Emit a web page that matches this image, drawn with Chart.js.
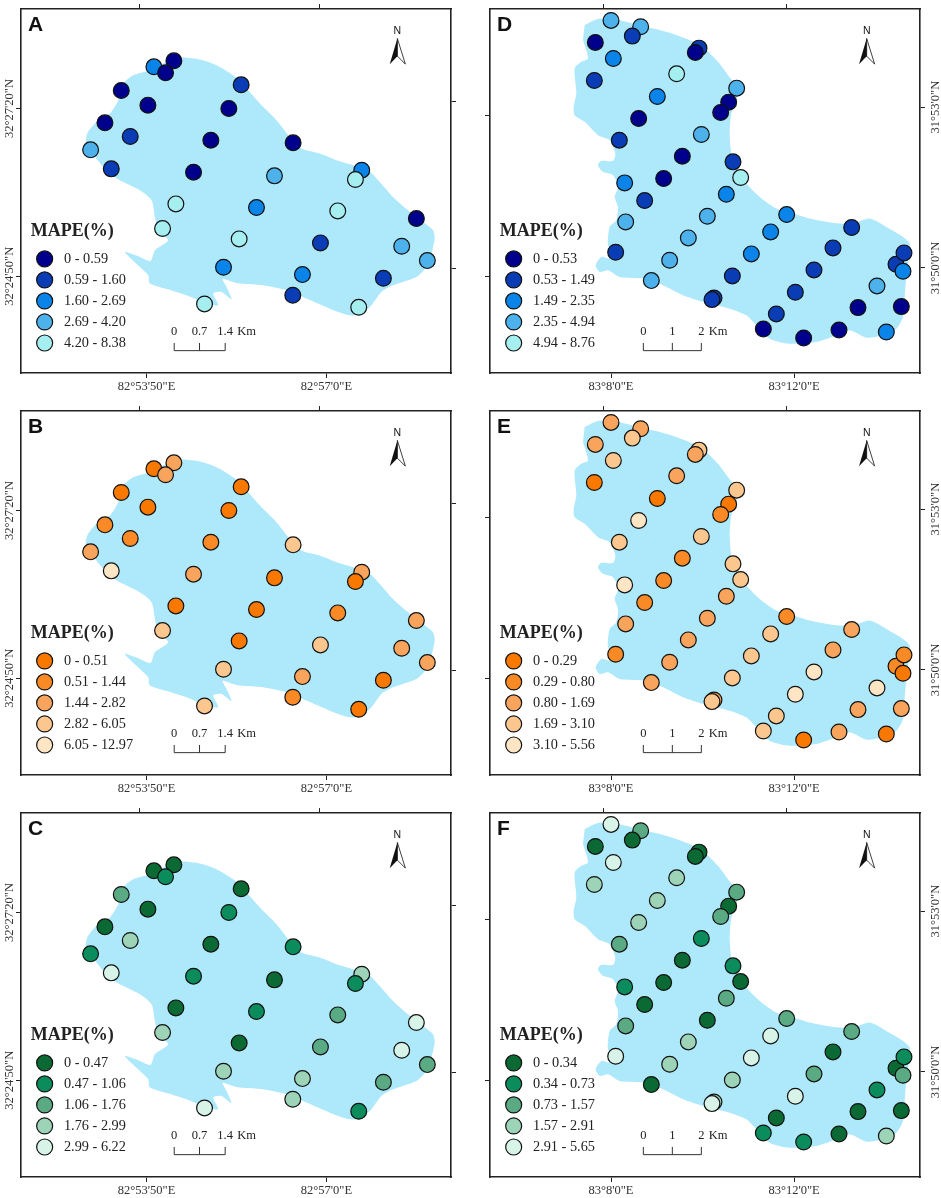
<!DOCTYPE html>
<html>
<head>
<meta charset="utf-8">
<title>MAPE maps</title>
<script src="https://cdn.jsdelivr.net/npm/chart.js@4"></script>
<style>
    body { margin: 0; background: #fff; }
    canvas { position: absolute; }
</style>
</head>
<body>
<script>
// Map readings: x runs east, y runs south, both in the same grid as the frame
const GRID_X_WEST = [63, 1354];
const GRID_X_EAST = [61, 1351];
const GRID_Y = [27, 1118];

// Lake outlines
const lakeWestX = [520,550,600,650,700,725,745,790,830,870,905,960,1010,1060,1105,1140,1180,1225,1270,1300,1305,1295,1280,1250,1180,1145,1115,1085,1050,990,920,860,790,720,690,668,680,695,665,640,655,610,560,520,450,445,420,375,420,452,465,505,475,465,455,420,350,310,285,258,262,290,330,355,370,400,450,490];
const lakeWestY = [175,172,178,195,225,245,270,320,360,410,445,460,480,495,510,545,590,630,665,690,715,760,800,830,855,875,915,940,945,925,895,870,855,850,842,836,860,897,875,880,915,905,885,872,850,825,800,755,770,782,750,720,690,650,600,570,535,500,470,440,400,365,340,300,250,225,210,190];
const lakeEastX = [345,380,420,470,515,570,620,670,710,745,775,805,800,785,780,785,800,830,870,920,970,1020,1090,1150,1200,1250,1300,1320,1318,1310,1305,1300,1280,1240,1190,1140,1100,1040,960,900,860,830,780,700,640,580,520,450,415,390,378,395,420,430,415,420,440,445,435,445,430,400,385,395,430,437,420,385,345,315,312,320,315,335,355,340];
const lakeEastY = [75,58,55,65,78,90,105,125,150,185,225,265,300,340,400,460,505,550,590,625,640,655,668,670,655,680,710,730,770,830,890,950,985,1005,1012,990,1005,1025,1030,1015,975,945,925,905,885,855,835,830,810,815,795,770,775,750,735,680,660,620,590,560,525,515,495,482,482,460,420,405,365,345,320,280,205,185,175,120];

// Stations
const stationsWestX = [522,462,497,724,364,444,687,315,391,633,880,272,334,581,824,1086,1067,528,770,1014,1250,488,718,962,1206,1283,671,908,1151,879,614,1077];
const stationsWestY = [182,200,218,254,271,315,325,368,409,420,428,449,506,516,527,510,538,611,622,632,655,685,716,728,738,781,801,823,834,885,911,921];
const stationsEastX = [424,513,488,688,677,377,431,621,374,801,563,777,753,507,695,449,638,790,582,813,465,770,525,713,951,468,1146,903,656,1090,845,438,1279,1303,600,1300,1033,788,545,1222,977,733,727,1165,1295,920,881,1108,1250,1002];
const stationsEastY = [61,80,108,144,157,127,175,221,241,264,289,306,337,355,403,420,468,485,535,532,548,582,601,648,643,665,682,695,713,743,761,756,792,758,780,813,809,827,841,857,876,893,898,922,919,941,986,989,995,1013];

// MAPE class of each station (0 = lowest class)
const classesA = [0,2,0,1,0,0,0,0,1,0,0,3,1,0,3,2,4,4,2,4,0,4,4,1,3,3,2,2,1,1,4,4];
const classesB = [2,0,2,0,0,0,0,1,1,1,3,2,4,2,0,2,0,0,0,1,2,3,0,3,2,2,3,2,0,1,3,0];
const classesC = [0,0,1,0,2,0,1,0,3,0,1,1,4,1,0,3,1,0,1,2,4,3,0,2,4,2,3,3,2,3,4,1];
const classesD = [3,3,1,1,0,0,2,4,1,3,2,0,0,0,3,1,0,1,0,4,2,2,1,3,2,3,1,2,3,1,2,1,1,1,3,2,1,1,3,3,1,1,1,0,0,1,0,0,2,0];
const classesE = [2,2,3,3,2,2,3,2,0,3,0,0,1,4,3,3,1,3,1,3,4,2,1,2,1,2,2,3,2,2,3,1,1,1,2,0,4,3,2,4,4,2,3,2,2,3,3,2,0,0];
const classesF = [4,2,0,0,0,0,4,3,3,2,3,0,2,3,1,2,0,1,0,0,1,2,0,0,2,2,2,4,3,0,4,4,0,1,3,2,2,3,0,1,4,3,4,0,0,0,1,0,3,1];

// Legend labels
const breaksA = ["0 - 0.59", "0.59 - 1.60", "1.60 - 2.69", "2.69 - 4.20", "4.20 - 8.38"];
const breaksB = ["0 - 0.51", "0.51 - 1.44", "1.44 - 2.82", "2.82 - 6.05", "6.05 - 12.97"];
const breaksC = ["0 - 0.47", "0.47 - 1.06", "1.06 - 1.76", "1.76 - 2.99", "2.99 - 6.22"];
const breaksD = ["0 - 0.53", "0.53 - 1.49", "1.49 - 2.35", "2.35 - 4.94", "4.94 - 8.76"];
const breaksE = ["0 - 0.29", "0.29 - 0.80", "0.80 - 1.69", "1.69 - 3.10", "3.10 - 5.56"];
const breaksF = ["0 - 0.34", "0.34 - 0.73", "0.73 - 1.57", "1.57 - 2.91", "2.91 - 5.65"];

// Graticule ticks
const lonTicksWest = [440, 980];
const lonTicksWestTop = [420, 960];
const latTicksWest = [325, 828];
const latTicksWestRight = [303, 806];
const lonLabelsWest = ['82°53\'50"E', '82°57\'0"E'];
const latLabelsWest = ['32°27\'20"N', '32°24\'50"N'];
const lonTicksEast = [424, 973];
const lonTicksEastTop = [402, 950];
const latTicksEast = [346, 828];
const latTicksEastRight = [321, 803];
const lonLabelsEast = ['83°8\'0"E', '83°12\'0"E'];
const latLabelsEast = ['31°53\'0"N', '31°50\'0"N'];

// Scale bars
const barTicksWest = [523, 599, 676];
const barLabelsWest = ["0", "0.7", "1.4"];
const barTicksEast = [521, 608, 695];
const barLabelsEast = ["0", "1", "2"];

// Colours
const BLUES = ["#00008c", "#0a3db5", "#0a84e8", "#4db1ec", "#a6eff1"];
const ORANGES = ["#f87800", "#f98a26", "#f9a45c", "#fbc78f", "#fee6c4"];
const GREENS = ["#0b6a33", "#0a8c5c", "#5aab84", "#9dd3b7", "#d8f4e8"];
const LAKE_COLOR = "#aee8fb";
const SERIF = "'Liberation Serif', serif";

const west = {
    lakeX: lakeWestX, lakeY: lakeWestY, stX: stationsWestX, stY: stationsWestY, gridX: GRID_X_WEST,
    lon: lonTicksWest, lonTop: lonTicksWestTop, lat: latTicksWest, latRight: latTicksWestRight,
    lonLabels: lonLabelsWest, latLabels: latLabelsWest,
    barTicks: barTicksWest, barLabels: barLabelsWest, kmX: 712, northX: 1193, legendX: 134, labelSide: "left"
};
const east = {
    lakeX: lakeEastX, lakeY: lakeEastY, stX: stationsEastX, stY: stationsEastY, gridX: GRID_X_EAST,
    lon: lonTicksEast, lonTop: lonTicksEastTop, lat: latTicksEast, latRight: latTicksEastRight,
    lonLabels: lonLabelsEast, latLabels: latLabelsEast,
    barTicks: barTicksEast, barLabels: barLabelsEast, kmX: 717, northX: 1191, legendX: 132, labelSide: "right"
};

function fixTicks(values) {
    return scale => { scale.ticks = values.map(v => ({ value: v })); };
}

// North arrow, scale bar, legend and panel letter all sit in map units
function decorPlugin(letter, map, colors, breaks) {
    return {
        id: "decor",
        afterDatasetsDraw(chart) {
            const { ctx, scales: { x, y } } = chart;
            const px = v => x.getPixelForValue(v);
            const py = v => y.getPixelForValue(v);
            ctx.save();
            ctx.textBaseline = "middle";

            // panel letter
            ctx.fillStyle = "#111";
            ctx.textAlign = "left";
            ctx.font = "bold 21px 'Liberation Sans', sans-serif";
            ctx.fillText(letter, px(map.legendX - 50), py(76));

            // north arrow
            const n = map.northX;
            ctx.font = "10.5px 'Liberation Sans', sans-serif";
            ctx.textAlign = "center";
            ctx.fillText("N", px(n), py(94));
            ctx.beginPath();
            ctx.moveTo(px(n), py(115));
            ctx.lineTo(px(n - 23), py(192));
            ctx.lineTo(px(n), py(168));
            ctx.closePath();
            ctx.fill();
            ctx.beginPath();
            ctx.moveTo(px(n), py(115));
            ctx.lineTo(px(n + 24), py(192));
            ctx.lineTo(px(n), py(168));
            ctx.closePath();
            ctx.strokeStyle = "#111";
            ctx.lineWidth = 0.8;
            ctx.stroke();

            // scale bar
            ctx.strokeStyle = "#333";
            ctx.lineWidth = 1;
            ctx.beginPath();
            map.barTicks.forEach(t => {
                ctx.moveTo(px(t), py(1028));
                ctx.lineTo(px(t), py(1051));
            });
            ctx.moveTo(px(map.barTicks[0]), py(1051));
            ctx.lineTo(px(map.barTicks[2]), py(1051));
            ctx.stroke();
            ctx.fillStyle = "#222";
            ctx.font = "12.5px " + SERIF;
            map.barLabels.forEach((t, i) => ctx.fillText(t, px(map.barTicks[i]), py(994)));
            ctx.textAlign = "left";
            ctx.fillText("Km", px(map.kmX), py(994));

            // legend
            ctx.font = "bold 18px " + SERIF;
            ctx.fillText("MAPE(%)", px(map.legendX - 42), py(692));
            ctx.font = "14.3px " + SERIF;
            breaks.forEach((label, i) => {
                const cy = py(776 + i * 63);
                ctx.beginPath();
                ctx.arc(px(map.legendX), cy, 8, 0, Math.PI * 2);
                ctx.fillStyle = colors[i];
                ctx.fill();
                ctx.strokeStyle = "#111";
                ctx.lineWidth = 1.2;
                ctx.stroke();
                ctx.fillStyle = "#222";
                ctx.fillText(label, px(map.legendX + 58), cy + 0.5);
            });
            ctx.restore();
        }
    };
}

function drawPanel(letter, map, classes, colors, breaks, left, top) {
    const canvas = document.createElement("canvas");
    canvas.width = left === 0 ? 470 : 471;
    canvas.height = 394;
    canvas.style.left = left + "px";
    canvas.style.top = top + "px";
    document.body.appendChild(canvas);

    const isWest = map.labelSide === "left";
    const tickFont = { family: SERIF, size: 12.5 };
    const latTicks = {
        display: true, autoSkip: false, minRotation: 90, maxRotation: 90, crossAlign: "center",
        color: "#333", font: tickFont, callback: (v, i) => map.latLabels[i]
    };
    const border = { display: true, color: "#222", width: 1.6 };
    const grid = { drawOnChartArea: false, tickLength: 5, tickColor: "#222", tickWidth: 1 };

    new Chart(canvas, {
        type: "scatter",
        data: {
            datasets: [
                {
                    data: map.stX.map((x, i) => ({ x: x, y: map.stY[i] })),
                    pointRadius: 7.9,
                    pointBorderWidth: 1.2,
                    pointBorderColor: "#111",
                    pointBackgroundColor: classes.map(c => colors[c]),
                    order: 0
                },
                {
                    data: map.lakeX.map((x, i) => ({ x: x, y: map.lakeY[i] })),
                    showLine: true,
                    fill: "shape",
                    tension: 0.25,
                    borderWidth: 0,
                    pointRadius: 0,
                    backgroundColor: LAKE_COLOR,
                    order: 1
                }
            ]
        },
        options: {
            responsive: false,
            animation: false,
            layout: { padding: 0 },
            plugins: { legend: { display: false }, tooltip: { enabled: false } },
            scales: {
                x: {
                    type: "linear", position: "bottom", min: map.gridX[0], max: map.gridX[1],
                    afterBuildTicks: fixTicks(map.lon),
                    afterFit: s => { s.height = 21; },
                    border, grid,
                    ticks: { autoSkip: false, maxRotation: 0, padding: 1, color: "#333", font: tickFont, callback: (v, i) => map.lonLabels[i] }
                },
                xTop: {
                    type: "linear", axis: "x", position: "top", min: map.gridX[0], max: map.gridX[1],
                    afterBuildTicks: fixTicks(map.lonTop),
                    afterFit: s => { s.height = 9; },
                    border, grid,
                    ticks: { display: false }
                },
                y: {
                    type: "linear", position: "left", reverse: true, min: GRID_Y[0], max: GRID_Y[1],
                    afterBuildTicks: fixTicks(map.lat),
                    afterFit: s => { s.width = isWest ? 21 : 20; },
                    border, grid,
                    ticks: isWest ? Object.assign({ padding: -23.5 }, latTicks) : { display: false }
                },
                yRight: {
                    type: "linear", axis: "y", position: "right", reverse: true, min: GRID_Y[0], max: GRID_Y[1],
                    afterBuildTicks: fixTicks(map.latRight),
                    afterFit: s => { s.width = isWest ? 19 : 21; },
                    border, grid,
                    ticks: isWest ? { display: false } : Object.assign({ padding: -16 }, latTicks)
                }
            }
        },
        plugins: [decorPlugin(letter, map, colors, breaks)]
    });
}

drawPanel("A", west, classesA, BLUES, breaksA, 0, 0);
drawPanel("B", west, classesB, ORANGES, breaksB, 0, 402);
drawPanel("C", west, classesC, GREENS, breaksC, 0, 804);
drawPanel("D", east, classesD, BLUES, breaksD, 470, 0);
drawPanel("E", east, classesE, ORANGES, breaksE, 470, 402);
drawPanel("F", east, classesF, GREENS, breaksF, 470, 804);
</script>
</body>
</html>
